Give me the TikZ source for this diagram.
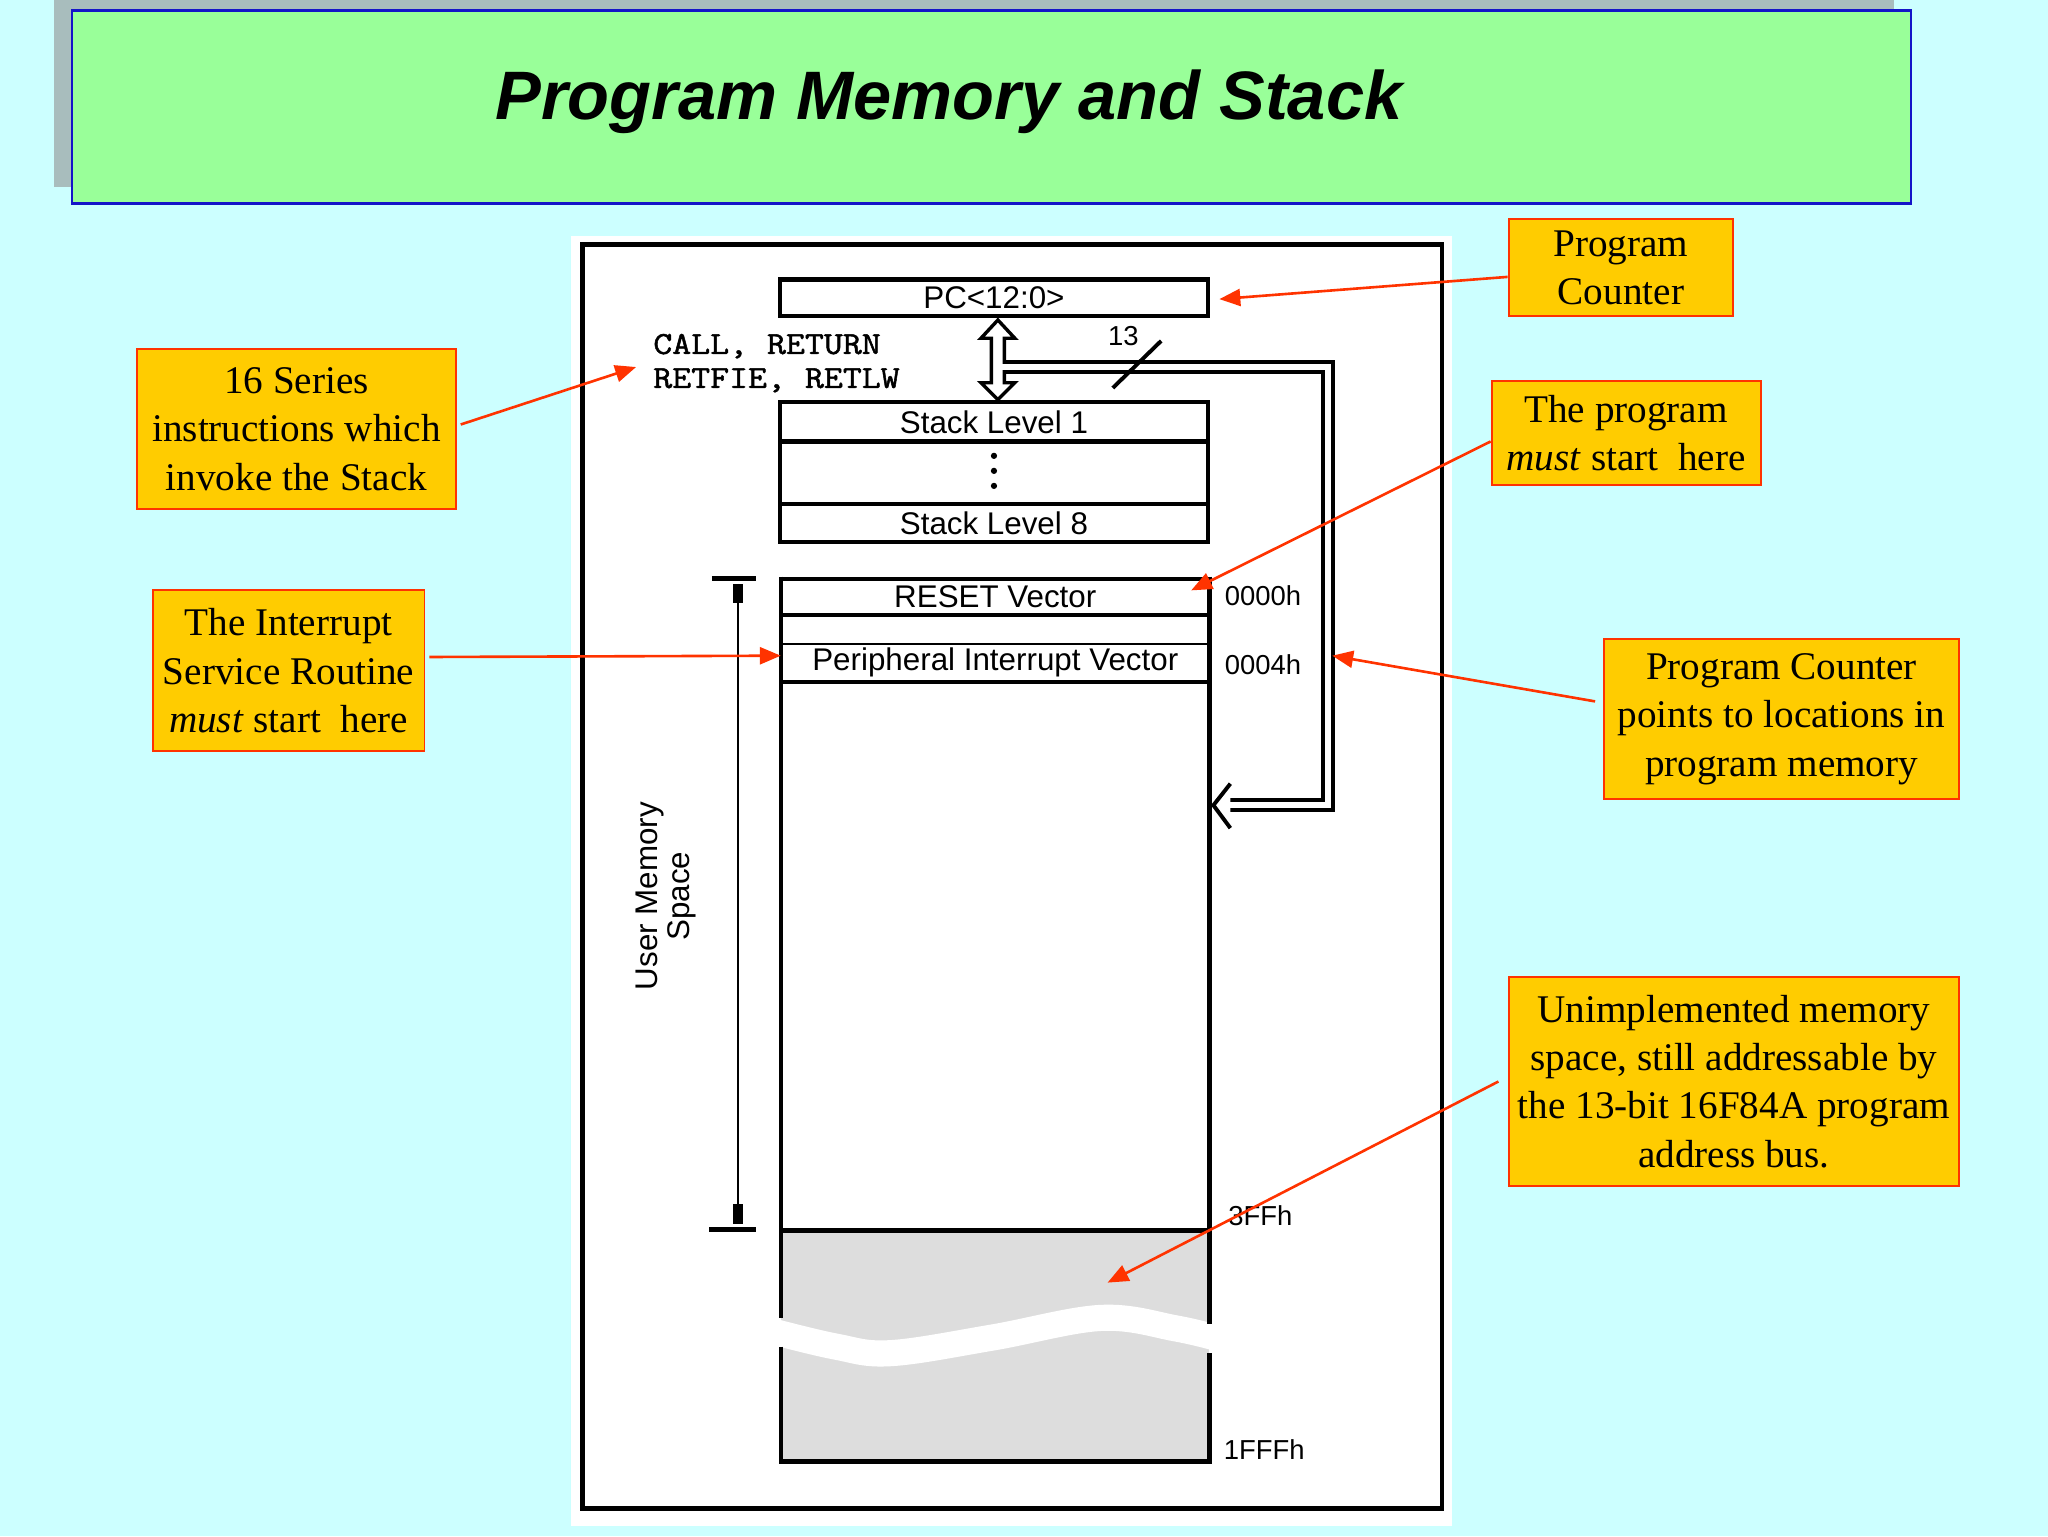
\documentclass[tikz,border=0pt]{standalone}
\usepackage{fontspec}
\setmainfont{Liberation Serif}
\newfontfamily\arialf{Liberation Sans}
\newfontfamily\courf{Latin Modern Mono}[FakeBold=1.6,FakeStretch=1.15]
\usetikzlibrary{arrows.meta,calc}
\definecolor{bgcyan}{RGB}{204,255,255}
\definecolor{titlegreen}{RGB}{153,255,153}
\definecolor{shadowgray}{RGB}{168,189,189}
\definecolor{titleblue}{RGB}{20,20,200}
\definecolor{calloutfill}{RGB}{255,204,0}
\definecolor{calloutdraw}{RGB}{255,51,0}
\definecolor{arrowred}{RGB}{255,51,0}
\definecolor{unimpl}{RGB}{221,221,221}
\tikzset{
  callout/.style={draw=calloutdraw, fill=calloutfill, line width=1.5pt, inner sep=0pt,
    align=center, font=\fontsize{30}{37}\selectfont},
  pointer/.style={draw=arrowred, line width=2pt, -{Triangle[length=16pt,width=13pt]}},
  rowbox/.style={draw, line width=3.2pt, inner sep=0pt, minimum width=328pt,
    font=\arialf\fontsize{24}{26}\selectfont},
  rowtext/.style={inner sep=0pt, minimum width=328pt, font=\arialf\fontsize{24}{26}\selectfont},
  addr/.style={inner sep=0pt, font=\arialf\fontsize{21}{23}\selectfont},
  thickline/.style={line width=3.2pt},
}
\begin{document}
\begin{tikzpicture}[x=1pt,y=-1pt]
\useasboundingbox (0,0) rectangle (1568,1176);
\fill[bgcyan] (0,0) rectangle (1568,1176);
% title
\fill[shadowgray] (41,0) rectangle (1450,143);
\node[draw=titleblue, fill=titlegreen, line width=2pt, minimum width=1408pt, minimum height=148pt, inner sep=0pt] (titlebox) at (759,82) {};
\node[font=\arialf\bfseries\itshape\fontsize{52.5}{60}\selectfont, inner sep=0pt, anchor=base] (titletext) at (726.5,91.5) {Program Memory and Stack};
% panel
\fill[white] (437,181) rectangle (1112,1168);
\draw[line width=3.5pt] (446,187) rectangle (1104,1155);
% PC and stack
\node[rowbox, minimum height=28pt] (pc) at (761,228) {PC<12:0>};
\node[rowbox, minimum height=30pt] (stack1) at (761,323) {Stack Level 1};
\node[rowbox, minimum height=48pt] (stackmid) at (761,362) {};
\node[rowbox, minimum height=29pt] (stack8) at (761,400.5) {Stack Level 8};
\foreach \yy in {349,360.5,372} \fill (761,\yy) circle (2.4pt);
% CALL text
\node[font=\courf\fontsize{24.5}{26}\selectfont, align=left, inner sep=0pt, anchor=west] (calls) at (500,278) {CALL, RETURN\\RETFIE, RETLW};
% bus: black outer
\draw[line width=11pt, line join=miter] (769,281) -- (1016.5,281) -- (1016.5,616.5) -- (941,616.5);
% double hollow arrow
\filldraw[fill=white, draw=black, line width=2.6pt, line join=miter]
  (764,245) -- (777,259) -- (769,259) -- (769,293) -- (777,293) -- (764,306)
  -- (751,293) -- (759,293) -- (759,259) -- (751,259) -- cycle;
% hollow arrowhead at memory
\filldraw[fill=white, draw=black, line width=3pt, line join=miter] (942,600) -- (929,616.5) -- (942,634);
% bus white core
\draw[white, line width=4.5pt, line join=miter] (761,281) -- (1016.5,281) -- (1016.5,616.5) -- (934,616.5);
\draw[black, line width=2.6pt] (759,268) -- (759,290);
% 13 label and slash
\node[addr] (buswidth) at (860,257) {13};
\draw[line width=3pt] (852,297) -- (889,261);
% memory map
\fill[unimpl] (598,942) rectangle (926,1119);
\draw[white, line width=20pt] plot[smooth, tension=0.6] coordinates {(590,1019) (640,1031) (682,1036) (760,1024) (843,1009) (900,1017) (934,1025)};
\draw[thickline] (598,443) -- (926,443);
\draw[thickline] (598,471) -- (926,471);
\draw[line width=2pt] (598,493) -- (926,493);
\draw[thickline] (598,522) -- (926,522);
\draw[line width=3.8pt] (598,942) -- (926,942);
\draw[thickline] (598,1119) -- (926,1119);
\draw[thickline] (598,441.4) -- (598,1009);
\draw[thickline] (598,1031) -- (598,1120.6);
\draw[thickline] (926,441.4) -- (926,1014);
\draw[thickline] (926,1036) -- (926,1120.6);
\node[rowtext, minimum height=28pt] (reset) at (762,457) {RESET Vector};
\node[rowtext, minimum height=29pt] (periph) at (762,507.5) {Peripheral Interrupt Vector};
\node[addr] (a0) at (967,456) {0000h};
\node[addr] (a4) at (967,509) {0004h};
\node[addr] (a3ff) at (965,931) {3FFh};
\node[addr] (a1fff) at (968,1110) {1FFFh};
% user memory dimension
\draw[line width=2pt] (565,447) -- (565,937);
\draw[line width=4pt] (545,443) -- (579,443);
\draw[line width=4pt] (543,941.5) -- (579,941.5);
\fill (561.5,447) rectangle (568.5,462);
\fill (561.5,922) rectangle (568.5,937);
\node[rotate=90, align=center, inner sep=0pt, font=\arialf\fontsize{24}{24}\selectfont] (usermem) at (510,686) {User Memory\\Space};
% callouts
\node[callout, minimum width=172pt, minimum height=74pt] (cbpc) at (1241,205) {Program\\Counter};
\node[callout, minimum width=244pt, minimum height=123pt] (cbseries) at (227,328.5) {16 Series\\instructions which\\invoke the Stack};
\node[callout, minimum width=206pt, minimum height=79pt] (cbstart) at (1245,331.5) {The program\\\textit{must} start~ here};
\node[callout, minimum width=208pt, minimum height=123pt] (cbisr) at (221,513.5) {The Interrupt\\Service Routine\\\textit{must} start~ here};
\node[callout, minimum width=272pt, minimum height=123pt] (cbpoints) at (1364,550.5) {Program Counter\\points to locations in\\program memory};
\node[callout, minimum width=345pt, minimum height=160pt] (cbunimpl) at (1327.5,828) {Unimplemented memory\\space, still addressable by\\the 13-bit 16F84A program\\address bus.};
% pointer targets
\coordinate (tcall) at (487,281);
\coordinate (treset) at (912,452);
\coordinate (tbus) at (1020,502);
\coordinate (tgray) at (848,982);
\draw[pointer] ([yshift=-7pt]cbpc.west) -- ([xshift=7pt,yshift=-1pt]pc.east);
\draw[pointer] ([xshift=3pt,yshift=3.5pt]cbseries.east) -- (tcall);
\draw[pointer] ([yshift=-6.5pt]cbstart.west) -- (treset);
\draw[pointer] ([xshift=3pt,yshift=10.5pt]cbisr.east) -- ([yshift=5.5pt]periph.west);
\draw[pointer] ([xshift=-6pt,yshift=13.5pt]cbpoints.west) -- (tbus);
\draw[pointer] ([xshift=-7pt]cbunimpl.west) -- (tgray);
\end{tikzpicture}
\end{document}
